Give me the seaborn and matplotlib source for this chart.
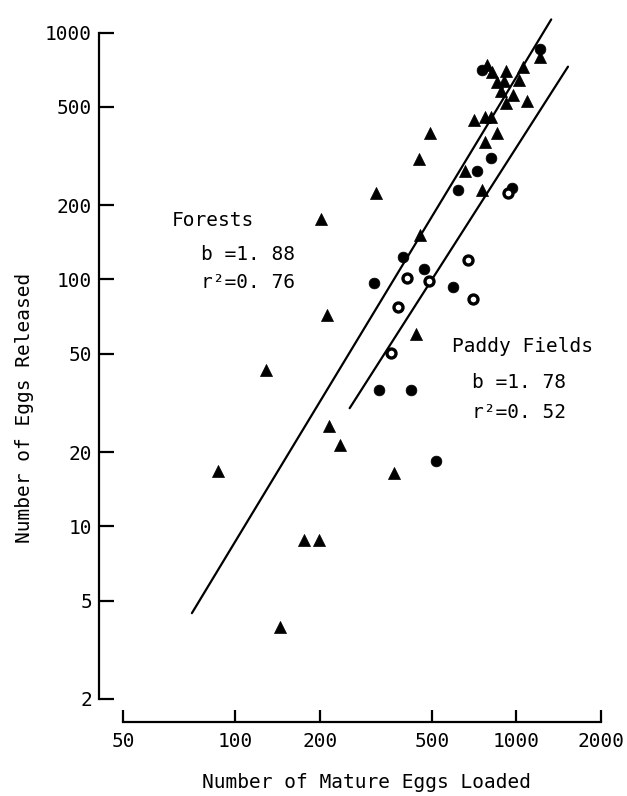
import numpy as np
import pandas as pd
import matplotlib
matplotlib.use('Agg')
import matplotlib.pyplot as plt
from matplotlib.ticker import FixedLocator, FixedFormatter, NullLocator
import seaborn as sns

# Forests (triangles): mature eggs loaded vs eggs released
forest_loaded = [87, 176, 199, 144, 215, 236, 367, 212, 128, 201, 454, 317, 439,
                 1214, 1056, 785, 820, 917, 856, 904, 1022, 880, 973, 917, 1089,
                 708, 774, 809, 493, 856, 774, 451, 654, 753]
forest_released = [16.7, 8.8, 8.8, 3.9, 25.4, 21.4, 16.4, 72, 43, 175, 151, 224, 60,
                   796, 727, 738, 692, 700, 632, 638, 642, 581, 558, 516, 529,
                   442, 453, 453, 390, 390, 361, 306, 275, 231]

# Paddy fields, filled circles
paddy_loaded = [517, 396, 312, 468, 593, 1214, 757, 809, 723, 621, 968, 323, 422]
paddy_released = [18.4, 123, 97, 110, 93, 857, 705, 311, 275, 230, 234, 35.6, 35.6]

# Paddy fields, open circles
paddy_open_loaded = [408, 490, 380, 670, 698, 934, 358]
paddy_open_released = [101, 98.6, 77.4, 120, 83, 223, 50.4]

# regression lines  log10(y) = a + b*log10(x)
forest_b, forest_a = 1.88, -2.82
forest_xrange = [70, 1330]
paddy_b, paddy_a = 1.78, -2.805
paddy_xrange = [255, 1526]

x_ticks = [39.8, 100, 200, 500, 1000, 2000]   # original draws "50" at the axis start
x_labels = ['50', '100', '200', '500', '1000', '2000']
y_ticks = [2, 5, 10, 20, 50, 100, 200, 500, 1000]
y_labels = ['2', '5', '10', '20', '50', '100', '200', '500', '1000']

sns.set_style('ticks')
plt.rcParams['font.family'] = ['DejaVu Sans Mono']
for k in ['text.color', 'axes.labelcolor', 'xtick.color', 'ytick.color', 'axes.edgecolor']:
    plt.rcParams[k] = 'black'

W, H = 627, 796
fig = plt.figure(figsize=(W / 100, H / 100), dpi=100)
ax = fig.add_axes([123 / W, 1 - 699 / H, (601 - 123) / W, (699 - 32.5) / H])

def line_df(xr, a, b):
    xs = np.logspace(np.log10(xr[0]), np.log10(xr[1]), 50)
    return pd.DataFrame({'x': xs, 'y': 10 ** (a + b * np.log10(xs))})

for xr, a, b in [(forest_xrange, forest_a, forest_b), (paddy_xrange, paddy_a, paddy_b)]:
    d = line_df(xr, a, b)
    sns.lineplot(data=d, x='x', y='y', color='black', lw=1.6, ax=ax, clip_on=False)

sns.scatterplot(x=forest_loaded, y=forest_released, marker='^', color='black',
                s=75, edgecolor='black', linewidth=0.5, ax=ax, legend=False, zorder=3)
sns.scatterplot(x=paddy_loaded, y=paddy_released, marker='o', color='black',
                s=60, edgecolor='black', linewidth=0.5, ax=ax, legend=False, zorder=3)
sns.scatterplot(x=paddy_open_loaded, y=paddy_open_released, marker='o', color='white',
                s=42, edgecolor='black', linewidth=2.4, ax=ax, legend=False, zorder=3)

ax.set_xscale('log')
ax.set_yscale('log')
ax.set_xlim(39.8, 2000)
ax.set_ylim(2, 1000)
ax.xaxis.set_major_locator(FixedLocator(x_ticks))
ax.xaxis.set_major_formatter(FixedFormatter(x_labels))
ax.yaxis.set_major_locator(FixedLocator(y_ticks))
ax.yaxis.set_major_formatter(FixedFormatter(y_labels))
ax.xaxis.set_minor_locator(NullLocator())
ax.yaxis.set_minor_locator(NullLocator())
ax.set_xlabel('')
ax.set_ylabel('')

sns.despine(ax=ax)
ax.spines['left'].set_position(('outward', 17.3))
ax.spines['bottom'].set_position(('outward', 16.6))
for s in ['left', 'bottom']:
    ax.spines[s].set_linewidth(1.6)
ax.tick_params(axis='y', direction='in', length=11, width=1.6, pad=5, labelsize=14)
ax.tick_params(axis='x', direction='in', length=9, width=1.6, pad=7, labelsize=14)

def px(x, y):
    return x / W, 1 - y / H

fig.text(*px(367, 783), 'Number of Mature Eggs Loaded', ha='center', va='center', fontsize=14)
fig.text(*px(25, 408), 'Number of Eggs Released', ha='center', va='center',
         rotation=90, fontsize=14)

fig.text(*px(172, 220), 'Forests', ha='left', va='center', fontsize=14)
fig.text(*px(201, 254), 'b =1. 88', ha='left', va='center', fontsize=14)
fig.text(*px(201, 283), 'r²=0. 76', ha='left', va='center', fontsize=14)
fig.text(*px(452, 347), 'Paddy Fields', ha='left', va='center', fontsize=14)
fig.text(*px(472, 383), 'b =1. 78', ha='left', va='center', fontsize=14)
fig.text(*px(472, 412), 'r²=0. 52', ha='left', va='center', fontsize=14)

fig.savefig('out.png', dpi=100)
